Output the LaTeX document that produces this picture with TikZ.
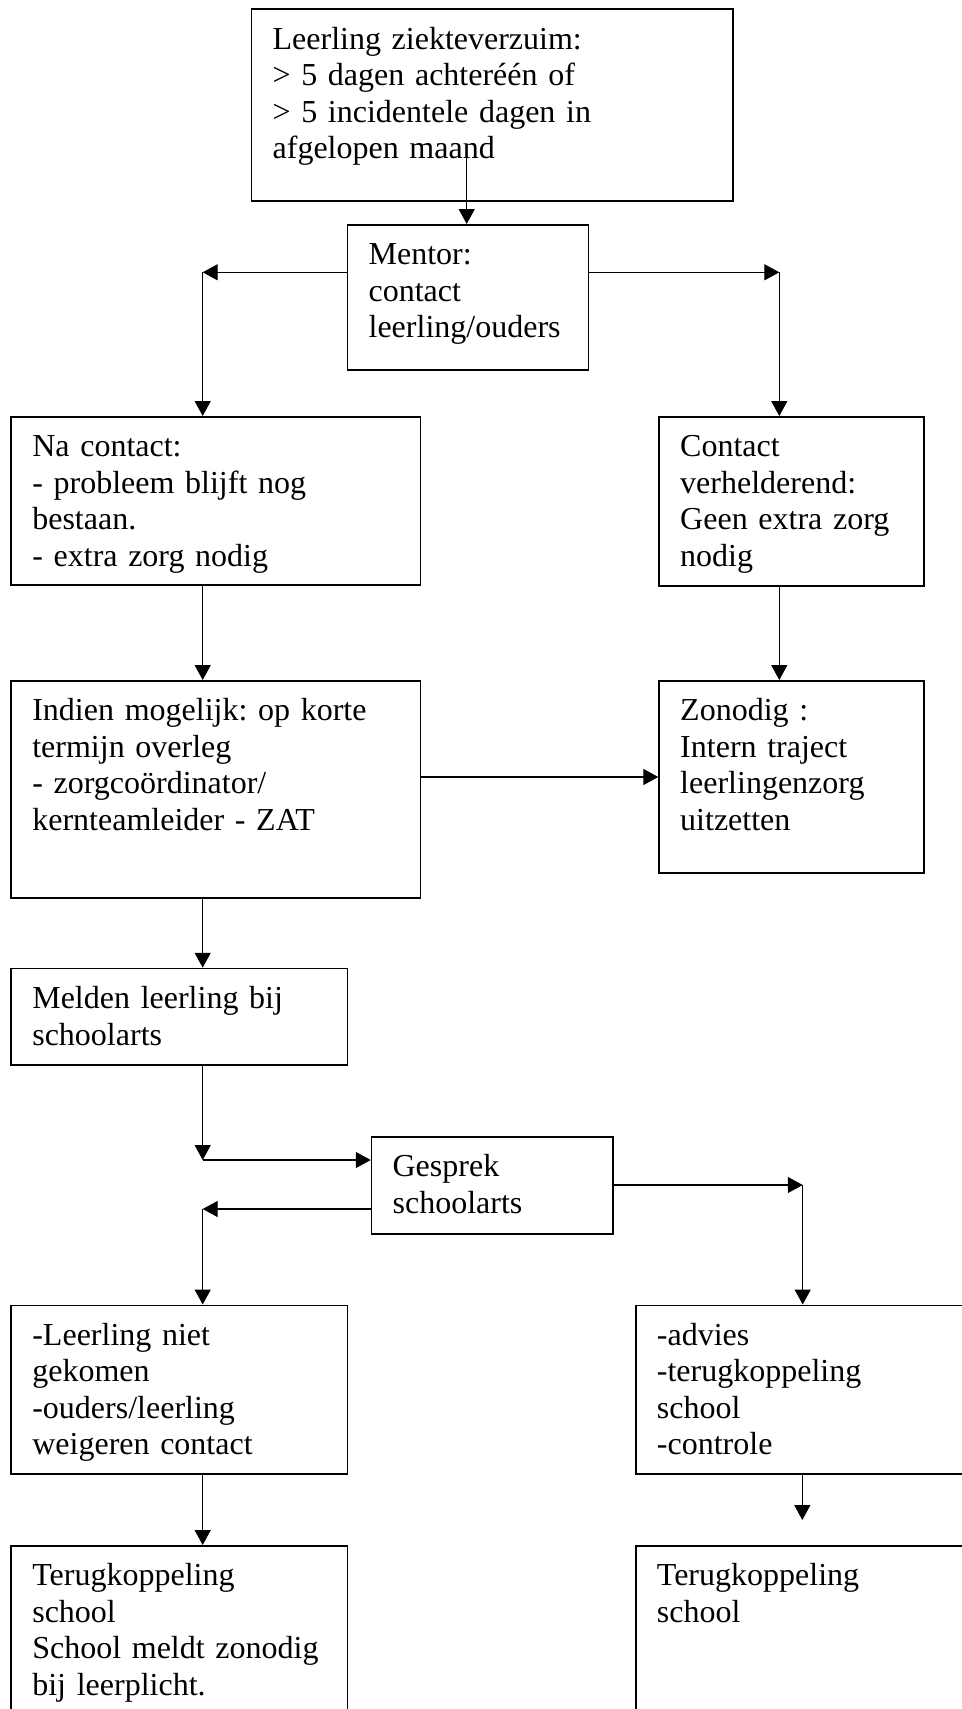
\documentclass[tikz,border=0pt]{standalone}
\usepackage{fontspec}
\setmainfont{Liberation Serif}
\usetikzlibrary{arrows.meta}
\frenchspacing

\begin{document}
\begin{tikzpicture}[x=0.375pt, y=-0.375pt,
	box/.style={draw, line width=0.65pt, anchor=north west, align=left,
		inner xsep=7.9pt, inner ysep=0pt, text height=15pt,
		font=\fontsize{12pt}{13.7pt}\selectfont\frenchspacing},
	boxwh/.style 2 args={text width=#1, text depth=#2},
	arr/.style={-{Triangle[length=5.6pt,width=6pt]}, line width=0.45pt}]

\useasboundingbox (0,0) rectangle (962,1709);
\fill[white] (0,0) rectangle (962,1709);
\clip (0,0) rectangle (962,1709);

\node[box, boxwh={164.6pt}{56.9pt}] (ziek) at (250.7,8.3) {Leerling ziekteverzuim:\\> 5 dagen achteréén of\\> 5 incidentele dagen in\\afgelopen maand};
\node[box, boxwh={74.5pt}{39.4pt}] (mentor) at (346.7,224) {Mentor:\\contact\\leerling/ouders};

\node[box, boxwh={137.7pt}{48.1pt}] (na) at (10.4,416) {Na contact:\\- probleem blijft nog\\bestaan.\\- extra zorg nodig};
\node[box, boxwh={83.6pt}{48.4pt}] (verh) at (658.3,416) {Contact\\verhelderend:\\Geen extra zorg\\nodig};

\node[box, boxwh={137.7pt}{66.3pt}] (overleg) at (10.4,680) {Indien mogelijk: op korte\\termijn overleg\\- zorgcoördinator/\\kernteamleider - ZAT};
\node[box, boxwh={83.6pt}{57.1pt}] (intern) at (658.3,680) {Zonodig :\\Intern traject\\leerlingenzorg\\uitzetten};

\node[box, boxwh={110.3pt}{21.1pt}] (melden) at (10.4,967.7) {Melden leerling bij\\schoolarts};
\node[box, boxwh={74.6pt}{21.3pt}] (gesprek) at (370.7,1136) {Gesprek\\schoolarts};

\node[box, boxwh={110.3pt}{48.1pt}] (weiger) at (10.4,1304.5) {-Leerling niet\\gekomen\\-ouders/leerling\\weigeren contact};
\node[box, boxwh={134.3pt}{48.1pt}] (advies) at (635,1304.5) {-advies\\-terugkoppeling\\school\\-controle};

\node[box, boxwh={110.3pt}{78.8pt}] (terugL) at (10.4,1545) {Terugkoppeling\\school\\School meldt zonodig\\bij leerplicht.};
\node[box, boxwh={134.3pt}{78.8pt}] (terugR) at (635,1545) {Terugkoppeling\\school};

% knikpunten
\coordinate (ziekS) at (466.7,152);
\coordinate (ml) at (202.7,272.3);
\coordinate (mr) at (779.3,272.3);
\coordinate (gin) at (202.7,1160);
\coordinate (guit) at (202.7,1209);
\coordinate (gr) at (802.7,1185);
\coordinate (advE) at (802.3,1520);

\draw[arr] (ziekS) -- (ziekS |- mentor.north);
\draw[arr] (mentor.west |- ml) -- (ml);
\draw[arr] (ml) -- (ml |- na.north);
\draw[arr] (mentor.east |- mr) -- (mr);
\draw[arr] (mr) -- (mr |- verh.north);

\draw[arr] (na.south -| ml) -- (overleg.north -| ml);
\draw[arr] (verh.south -| mr) -- (intern.north -| mr);
\draw[arr] (overleg.east |- intern.west) -- (intern.west);
\draw[arr] (overleg.south -| ml) -- (melden.north -| ml);

\draw[arr] (melden.south -| gin) -- (gin);
\draw[arr] (gin) -- (gin -| gesprek.west);
\draw[arr] (gesprek.west |- guit) -- (guit);
\draw[arr] (guit) -- (guit |- weiger.north);
\draw[arr] (gesprek.east |- gr) -- (gr);
\draw[arr] (gr) -- (gr |- advies.north);

\draw[arr] (weiger.south -| ml) -- (terugL.north -| ml);
\draw[arr] (advies.south -| advE) -- (advE);

\end{tikzpicture}
\end{document}
